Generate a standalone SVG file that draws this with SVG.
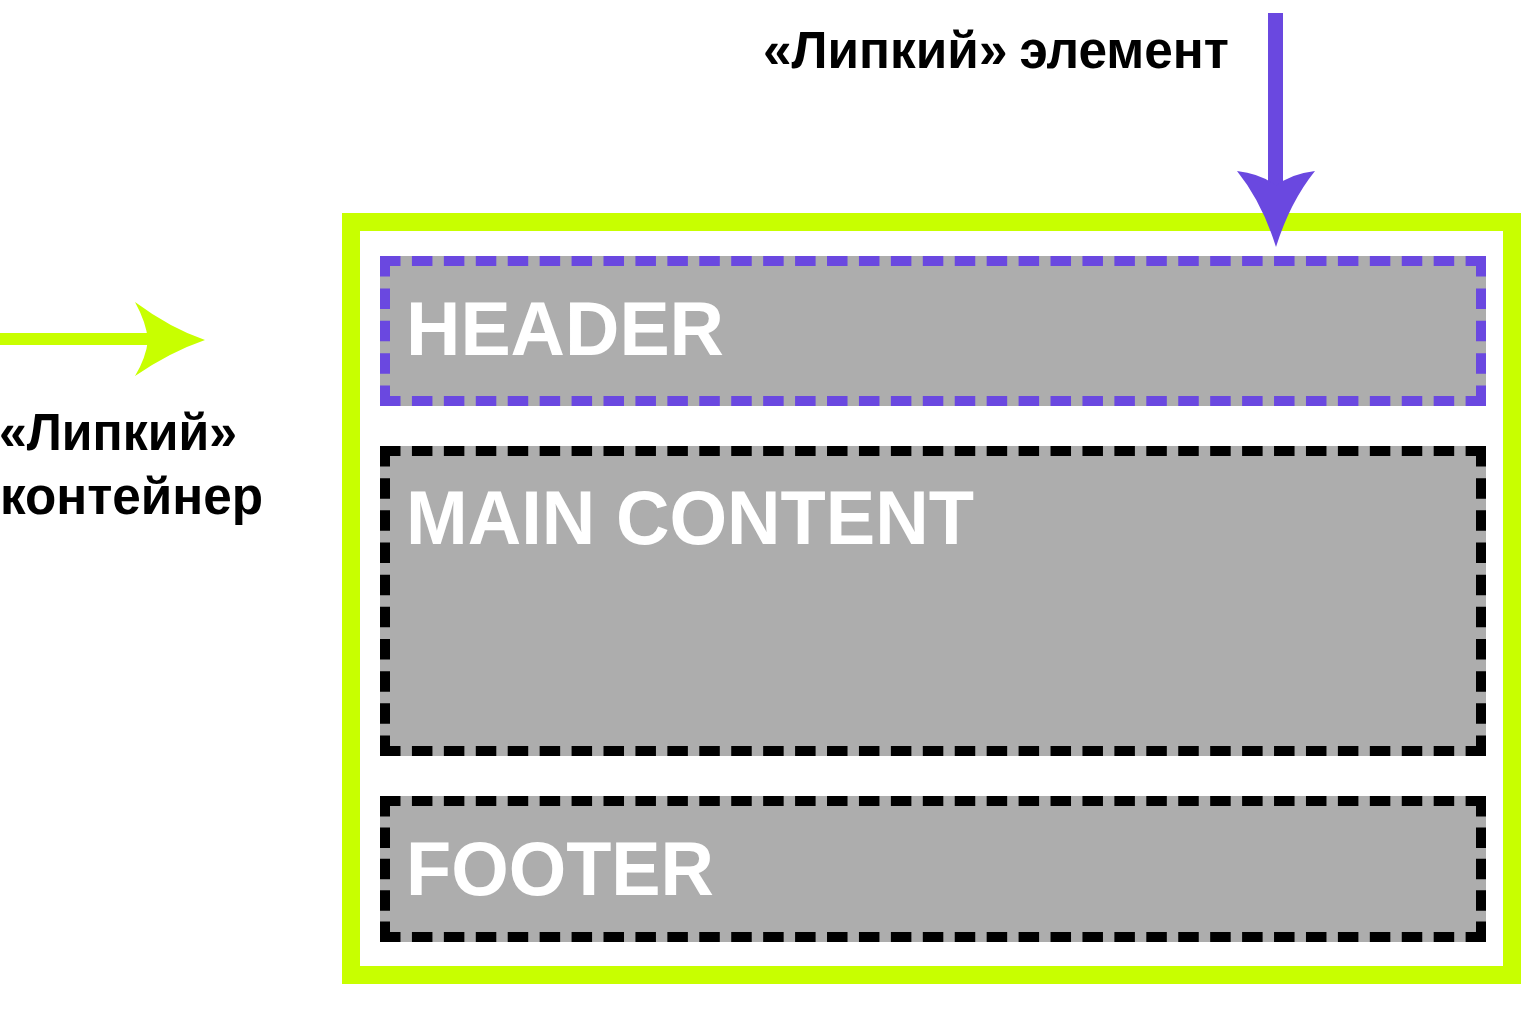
<svg xmlns="http://www.w3.org/2000/svg" width="1536" height="1024" viewBox="0 0 1536 1024">
  <style>
    .bg { fill: #ffffff; }
    .container { fill: none; stroke: #c8ff00; stroke-width: 18; }
    .box { fill: #adadad; stroke: none; }
    .edge { fill: none; stroke-width: 10; stroke-linecap: butt; }
    .purple { stroke: #6a48e0; }
    .black { stroke: #000000; }
    .h { stroke-dasharray: 20.5 11.43; }
    .boxlabel { font-family: "Liberation Sans", Arial, sans-serif; font-weight: bold; font-size: 76px; fill: #ffffff; }
    .label { font-family: "Liberation Sans", Arial, sans-serif; font-weight: bold; font-size: 51px; fill: #000000; }
    .shaft-green { stroke: #c8ff00; stroke-width: 12; fill: none; }
    .shaft-purple { stroke: #6a48e0; stroke-width: 15; fill: none; }
    .head-green { fill: #c8ff00; }
    .head-purple { fill: #6a48e0; }
  </style>
  <rect class="bg" x="0" y="0" width="1536" height="1024"/>

  <g id="sticky-container">
    <rect class="container" x="351" y="222" width="1161" height="753"/>
  </g>

  <g id="header">
    <rect class="box" x="380" y="256" width="1106" height="150"/>
    <path class="edge purple h" d="M380 261 H1486"/>
    <path class="edge purple h" d="M380 401 H1486"/>
    <path class="edge purple" stroke-dasharray="20.5 11.875" d="M385 256 V406"/>
    <path class="edge purple" stroke-dasharray="20.5 11.875" d="M1481 256 V406"/>
    <text class="boxlabel" x="406" y="355" textLength="318" lengthAdjust="spacingAndGlyphs">HEADER</text>
  </g>

  <g id="main-content">
    <rect class="box" x="380" y="446" width="1106" height="310"/>
    <path class="edge black h" d="M380 451 H1486"/>
    <path class="edge black h" d="M380 751 H1486"/>
    <path class="edge black" stroke-dasharray="20.5 11.67" d="M385 446 V756"/>
    <path class="edge black" stroke-dasharray="20.5 11.67" d="M1481 446 V756"/>
    <text class="boxlabel" x="406" y="544" textLength="568" lengthAdjust="spacingAndGlyphs">MAIN CONTENT</text>
  </g>

  <g id="footer">
    <rect class="box" x="380" y="796" width="1106" height="146"/>
    <path class="edge black h" d="M380 801 H1486"/>
    <path class="edge black h" d="M380 937 H1486"/>
    <path class="edge black" stroke-dasharray="20.5 10.875" d="M385 796 V942"/>
    <path class="edge black" stroke-dasharray="20.5 10.875" d="M1481 796 V942"/>
    <text class="boxlabel" x="406" y="895" textLength="308" lengthAdjust="spacingAndGlyphs">FOOTER</text>
  </g>

  <g id="label-sticky-element">
    <text class="label" x="763" y="68" textLength="466" lengthAdjust="spacingAndGlyphs">«Липкий»<tspan dx="12">элемент</tspan></text>
  </g>

  <g id="label-sticky-container">
    <text class="label" x="-1" y="450" textLength="238" lengthAdjust="spacingAndGlyphs">«Липкий»</text>
    <text class="label" x="0" y="514" textLength="263" lengthAdjust="spacingAndGlyphs">контейнер</text>
  </g>

  <g id="connectors">
    <g id="arrow-container">
      <path class="shaft-green" d="M0 339 H150"/>
      <path class="head-green" d="M205 340 Q170 328 135 302 Q146 322 148 340 Q146 358 135 376 Q170 352 205 340 Z"/>
    </g>
    <g id="arrow-element">
      <path class="shaft-purple" d="M1275.5 13 V190"/>
      <path class="head-purple" d="M1276 247 Q1262 202 1237 171 Q1262 174 1276 186 Q1290 174 1315 171 Q1290 202 1276 247 Z"/>
    </g>
  </g>
</svg>
